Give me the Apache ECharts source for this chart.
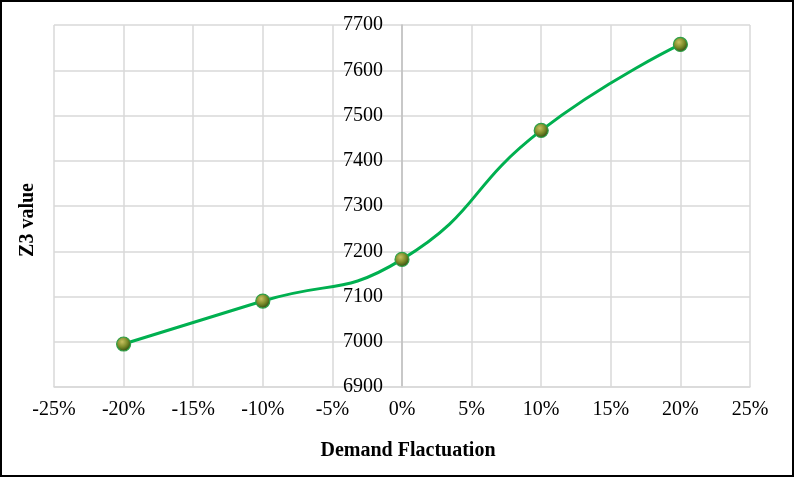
<!DOCTYPE html>
<html>
<head>
<meta charset="utf-8">
<script src="https://cdn.jsdelivr.net/npm/echarts@6/dist/echarts.min.js"></script>
<style>
html,body{margin:0;padding:0;background:#fff;}
#chart{width:794px;height:477px;}
</style>
</head>
<body>
<div id="chart"></div>
<script>
// Data
const fluctuation = [-20, -10, 0, 10, 20];           // Demand fluctuation (%)
const z3Values    = [6995, 7090, 7182, 7467, 7657];   // Z3 value
const xTitle = 'Demand Flactuation';
const yTitle = 'Z3 value';

const FONT = "'Liberation Serif','Times New Roman',serif";
const chart = echarts.init(document.getElementById('chart'));
const seriesData = fluctuation.map((x, i) => [x, z3Values[i]]);

chart.setOption({
  animation: false,
  backgroundColor: '#fff',
  grid: {left: 54, right: 44, top: 25, bottom: 90, containLabel: false, outerBoundsMode: 'none'},
  xAxis: {
    type: 'value', min: -25, max: 25, interval: 5,
    axisLine: {show: true, lineStyle: {color: '#d9d9d9', width: 1.5}},
    axisTick: {show: false},
    axisLabel: {formatter: v => v + '%', color: '#000', fontFamily: FONT, fontSize: 20, margin: 13},
    splitLine: {show: true, lineStyle: {color: '#d9d9d9', width: 1.5}}
  },
  yAxis: {
    type: 'value', min: 6900, max: 7700, interval: 100,
    position: 'left', offset: -348,
    axisLine: {show: true, onZero: false, lineStyle: {color: '#bfbfbf', width: 1.5}},
    axisTick: {show: false},
    axisLabel: {formatter: v => String(v), color: '#000', fontFamily: FONT, fontSize: 20, margin: 19},
    splitLine: {show: true, lineStyle: {color: '#d9d9d9', width: 1.5}}
  },
  graphic: [
    {type: 'rect', shape: {x: 1, y: 1, width: 792, height: 475},
     style: {fill: 'none', stroke: '#000', lineWidth: 2}, z: 100},
    {type: 'text', x: 408, y: 451,
     style: {text: xTitle, font: "bold 20px " + FONT, fill: '#000', textAlign: 'center', textVerticalAlign: 'middle'}},
    {type: 'text', x: 28, y: 220, rotation: Math.PI / 2, originX: 0, originY: 0,
     style: {text: yTitle, font: "bold 20px " + FONT, fill: '#000', textAlign: 'center', textVerticalAlign: 'middle'}}
  ],
  series: [{
    type: 'line',
    data: seriesData,
    smooth: 0.5,
    lineStyle: {color: '#00b050', width: 3},
    symbol: 'circle',
    symbolSize: 14,
    itemStyle: {
      color: {type: 'radial', x: 0.4, y: 0.35, r: 0.65,
        colorStops: [{offset: 0, color: '#c8c060'}, {offset: 0.55, color: '#7a8a28'}, {offset: 1, color: '#2f4a10'}]},
      borderColor: '#2fa048', borderWidth: 1.2
    },
    z: 5
  }]
});
</script>
</body>
</html>
